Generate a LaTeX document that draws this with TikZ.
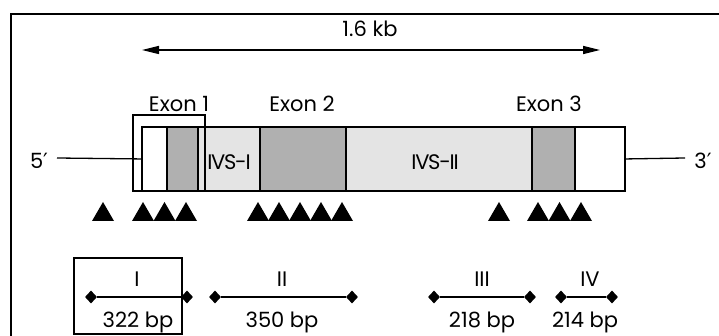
\documentclass[tikz,border=0pt]{standalone}
\usepackage{fontspec}
\setmainfont{Poppins}
\newfontfamily\primefont{DejaVu Sans}
\usetikzlibrary{arrows.meta,shapes.geometric}
\definecolor{exgrey}{HTML}{B0B0B0}
\definecolor{ivsgrey}{HTML}{E4E4E4}
\begin{document}
\begin{tikzpicture}[x=1pt,y=-1pt,
  lbl/.style={anchor=base, inner sep=0pt, font=\fontsize{21}{25}\selectfont},
  ivslbl/.style={lbl, font=\fontsize{21}{25}\selectfont\addfontfeature{LetterSpace=-6}},
  seg/.style={draw=black, line width=1.9pt, anchor=north west, inner sep=0pt, minimum height=64pt},
  hlbox/.style={draw=black, line width=2.4pt, anchor=north west, inner sep=0pt},
  thinline/.style={line width=1.3pt},
  dia/.style={diamond, fill=black, inner sep=0pt, minimum width=12pt, minimum height=13pt},
  tri/.style={fill=black}
]
\clip (0,0) rectangle (719,336);
% outer frame
\draw[line width=2.8pt] (11,345) -- (11,14) -- (730,14);

% 1.6 kb arrow
\coordinate (aL) at (142,50);
\coordinate (aR) at (600,50);
\draw[thinline, {Triangle[length=17pt,width=8pt]}-{Triangle[length=17pt,width=8pt]}] (aL) -- (aR);
\node[lbl] (kb) at (370,37) {1.6 kb};

% gene segments
\node[seg, fill=white, minimum width=25pt] (utr5) at (141,126) {};
\node[seg, fill=exgrey, minimum width=31pt] (ex1) at (166,126) {};
\node[seg, fill=ivsgrey, minimum width=62pt] (ivs1) at (197,126) {};
\node[seg, fill=exgrey, minimum width=86pt] (ex2) at (259,126) {};
\node[seg, fill=ivsgrey, minimum width=186pt] (ivs2) at (345,126) {};
\node[seg, fill=exgrey, minimum width=43pt] (ex3) at (531,126) {};
\node[seg, fill=white, minimum width=50pt] (utr3) at (574,126) {};

\node[ivslbl] (ivs1t) at (229,170) {IVS-I};
\node[ivslbl] (ivs2t) at (435,170) {IVS-II};

% exon 1 highlight box
\node[hlbox, minimum width=72pt, minimum height=76pt] (ex1box) at (132,114) {};

% exon labels
\node[lbl] (e1t) at (179,112) {Exon 1};
\node[lbl] (e2t) at (302,112) {Exon 2};
\node[lbl] (e3t) at (549,112) {Exon 3};

% flanking lines
\coordinate (c5) at (57,158);
\coordinate (c3) at (685,158);
\draw[thinline] (c5) -- (utr5.west);
\draw[thinline] (utr3.east) -- (c3);
\node[lbl] (p5) at (39,169) {5{\primefont ′}};
\node[lbl] (p3) at (703,169) {3{\primefont ′}};

% triangles
\foreach \x in {103,143,164.5,186,258,279,300,321,342,499,538,559.5,581}
  \fill[tri] (\x-11,221) -- (\x,202) -- (\x+11,221) -- cycle;

% fragments
\node[dia] (f1a) at (91,297) {};
\node[dia] (f1b) at (187,297) {};
\node[dia] (f2a) at (215,297) {};
\node[dia] (f2b) at (352,297) {};
\node[dia] (f3a) at (434,297) {};
\node[dia] (f3b) at (530,297) {};
\node[dia] (f4a) at (561,297) {};
\node[dia] (f4b) at (612,297) {};
\draw[thinline] (f1a) -- (f1b);
\draw[thinline] (f2a) -- (f2b);
\draw[thinline] (f3a) -- (f3b);
\draw[thinline] (f4a) -- (f4b);

\node[lbl] (r1) at (137,287) {I};
\node[lbl] (r2) at (282,287) {II};
\node[lbl] (r3) at (482,287) {III};
\node[lbl] (r4) at (590,287) {IV};
\node[lbl] (b1) at (138,327) {322 bp};
\node[lbl] (b2) at (282,327) {350 bp};
\node[lbl] (b3) at (482,327) {218 bp};
\node[lbl] (b4) at (585,327) {214 bp};

% fragment I highlight box
\node[hlbox, minimum width=108pt, minimum height=76pt] (boxI) at (73,257) {};
\end{tikzpicture}
\end{document}
